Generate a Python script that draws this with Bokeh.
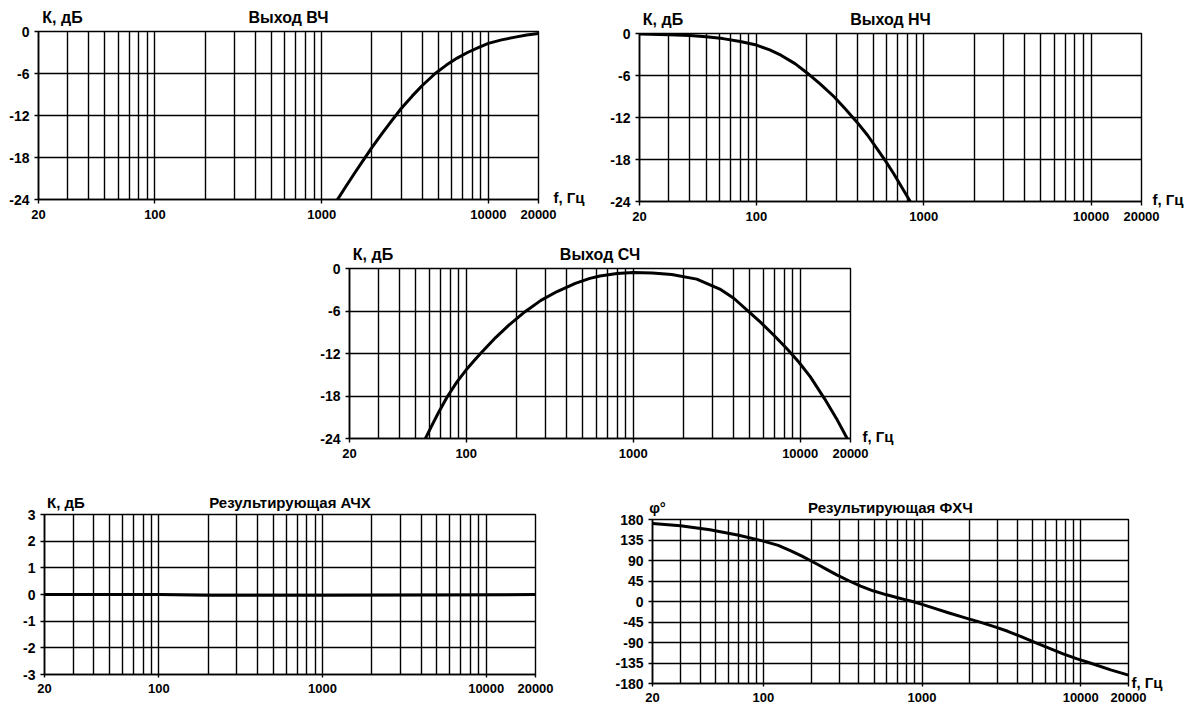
import math

from bokeh.embed import file_html
from bokeh.layouts import column, row
from bokeh.models import (CustomJSTickFormatter, FixedTicker, LinearAxis, LogAxis,
                          PrintfTickFormatter, Range1d, Spacer)
from bokeh.plotting import figure
from bokeh.resources import INLINE

FONT = "Liberation Sans"
INK = "#000000"

# ---- axes -------------------------------------------------------------------
f_min, f_max = 20, 20000
x_tick_values = [20, 100, 1000, 10000, 20000]
x_grid_values = [30, 40, 50, 60, 70, 80, 90,
                 100, 200, 300, 400, 500, 600, 700, 800, 900,
                 1000, 2000, 3000, 4000, 5000, 6000, 7000, 8000, 9000, 10000]
db_ticks = [-24, -18, -12, -6, 0]
sum_ticks = [-3, -2, -1, 0, 1, 2, 3]
phase_ticks = [-180, -135, -90, -45, 0, 45, 90, 135, 180]

# ---- high-pass output (Гц, дБ) ---------------------------------------------
hf_freq = [1245, 1400, 1600, 1800, 2000, 2300, 2600, 3000, 3500, 4000, 4800,
           5600, 6500, 7500, 8700, 10000, 12000, 14500, 17000, 20000]
hf_db = [-24.0, -22.1, -20.0, -18.2, -16.6, -14.6, -12.9, -11.0, -9.2, -7.75,
         -6.0, -4.8, -3.8, -3.0, -2.3, -1.7, -1.2, -0.8, -0.5, -0.3]

# ---- low-pass output --------------------------------------------------------
lf_freq = [20, 30, 40, 50, 63, 80, 100, 120, 140, 170, 200, 240, 290, 340, 400,
           460, 520, 590, 660, 740, 830]
lf_db = [-0.08, -0.17, -0.3, -0.47, -0.73, -1.15, -1.65, -2.35, -3.1, -4.3,
         -5.6, -7.2, -9.0, -10.8, -12.7, -14.5, -16.3, -18.2, -20.0, -22.0,
         -24.0]

# ---- mid-band output --------------------------------------------------------
mf_freq = [57, 62, 68, 77, 88, 100, 112, 123, 150, 180, 225, 280, 350, 450,
           550, 632, 800, 1000, 1300, 1700, 2400, 3300, 4000, 4820, 5800, 7000,
           8300, 9800, 11500, 14000, 16500, 19100]
mf_db = [-24.0, -22.25, -20.4, -18.1, -16.0, -14.3, -12.95, -11.9, -9.75, -8.0,
         -6.1, -4.5, -3.25, -2.1, -1.4, -1.05, -0.7, -0.57, -0.62, -0.85, -1.5,
         -2.9, -4.2, -5.9, -7.6, -9.5, -11.3, -13.2, -15.3, -18.4, -21.2, -24.0]

# ---- summed response --------------------------------------------------------
sum_freq = [20, 100, 200, 1000, 5000, 20000]
sum_db = [0.0, 0.0, -0.03, -0.03, -0.02, 0.0]

# ---- summed phase (градусы) -------------------------------------------------
ph_freq = [20, 30, 46, 70, 100, 124, 149, 175, 196, 220, 247, 290, 348, 410,
           491, 590, 693, 780, 873, 1000, 1200, 1463, 1850, 2317, 2850, 3467,
           4250, 5180, 6300, 7745, 9500, 11590, 15450, 20000]
ph_deg = [171, 166.5, 157.5, 145.5, 132.5, 123.2, 111.3, 99.5, 90.5, 81.2,
          71.5, 58.3, 45, 33.7, 23.5, 15.2, 8.8, 4.2, 0, -6.3, -15.2, -24.7,
          -35.4, -45.4, -55.3, -65.4, -77.8, -90.3, -102.4, -114.8, -125.9,
          -135.5, -150.2, -161.5]


def text_only(ax, size):
    ax.axis_line_color = None
    ax.major_tick_line_color = None
    ax.minor_tick_line_color = None
    ax.major_tick_out = 0
    ax.major_tick_in = 0
    ax.major_label_text_font = FONT
    ax.major_label_text_font_style = "bold"
    ax.major_label_text_font_size = size
    ax.major_label_text_color = INK


def panel(width, height, left, right, top, bottom, y_lo, y_hi, y_ticks,
          x_gap=6, x_tick_out=4):
    p = figure(width=width, height=height, x_axis_type="log",
               x_range=Range1d(f_min, f_max), y_range=Range1d(y_lo, y_hi),
               min_border_left=left, min_border_right=right,
               min_border_top=top, min_border_bottom=bottom,
               toolbar_location=None, output_backend="svg")
    p.background_fill_color = "white"
    p.border_fill_color = "white"
    p.outline_line_color = INK
    p.outline_line_width = 1.4

    p.xgrid.ticker = FixedTicker(ticks=x_grid_values)
    p.ygrid.ticker = FixedTicker(ticks=y_ticks)
    for g in (p.xgrid, p.ygrid):
        g.grid_line_color = INK
        g.grid_line_width = 1.4
        g.grid_line_alpha = 1.0

    xa = p.xaxis[0]
    xa.ticker = FixedTicker(ticks=x_tick_values)
    xa.formatter = PrintfTickFormatter(format="%d")
    xa.major_label_standoff = x_gap
    xa.major_label_text_font_size = "13px"
    ya = p.yaxis[0]
    ya.ticker = FixedTicker(ticks=y_ticks)
    ya.formatter = PrintfTickFormatter(format="%d")
    ya.major_label_standoff = 5
    ya.major_label_text_font_size = "14px"
    for ax in (xa, ya):
        ax.axis_line_color = INK
        ax.axis_line_width = 1.6
        ax.major_tick_line_color = INK
        ax.major_tick_line_width = 1.4
        ax.major_tick_out = 4
        ax.major_tick_in = 0
        ax.minor_tick_line_color = None
        ax.major_label_text_font = FONT
        ax.major_label_text_font_style = "bold"
        ax.major_label_text_color = INK
    xa.major_tick_out = x_tick_out
    return p


def captions(p, frame_w, frame_h, title, y_name, name_px, y_lo, y_hi,
             unit_dx, unit_dy, size="16px", standoff=6):
    """Title and quantity name above the frame, frequency unit at the right."""
    centre = math.sqrt(f_min * f_max)
    name_at = f_min * 10 ** (name_px * 3 / frame_w)
    top = LogAxis(ticker=FixedTicker(ticks=[name_at, centre]),
                  formatter=CustomJSTickFormatter(
                      args=dict(centre=centre, title=title, name=y_name),
                      code="return Math.abs(tick - centre) < 1e-3 * centre ? title : name"))
    text_only(top, size)
    top.major_label_standoff = standoff
    p.add_layout(top, "above")

    span = y_hi - y_lo
    unit_at = y_lo + unit_dy * span / frame_h
    unit = LinearAxis(ticker=FixedTicker(ticks=[unit_at]),
                      bounds=(unit_at - 0.01 * span, unit_at + 0.01 * span),
                      formatter=CustomJSTickFormatter(code="return 'f, Гц'"))
    text_only(unit, "15px")
    unit.major_label_standoff = unit_dx
    p.add_layout(unit, "right")


def curve(p, xs, ys):
    p.line(xs, ys, line_width=3, line_color=INK, line_join="round",
           line_cap="round")


# ---- top row: high / low outputs -------------------------------------------
p_hf = panel(590, 238, 38, 52, 31, 39, -24, 0, db_ticks)
curve(p_hf, hf_freq, hf_db)
captions(p_hf, 500, 168, "Выход ВЧ", "К, дБ", 24, -24, 0, 15, 2)

p_lf = panel(610, 238, 49, 59, 31, 39, -24, 0, db_ticks)
curve(p_lf, lf_freq, lf_db)
captions(p_lf, 502, 168, "Выход НЧ", "К, дБ", 23.5, -24, 0, 11, 2)

# ---- middle row: mid output --------------------------------------------------
p_mf = panel(901, 250, 50, 350, 28, 52, -24, 0, db_ticks)
curve(p_mf, mf_freq, mf_db)
captions(p_mf, 501, 170, "Выход СЧ", "К, дБ", 23.5, -24, 0, 12, 2)

# ---- bottom row: summed magnitude and phase ---------------------------------
p_sum = panel(600, 209, 44, 65, 22, 25, -3, 3, sum_ticks, x_gap=6,
              x_tick_out=3)
curve(p_sum, sum_freq, sum_db)
captions(p_sum, 491, 162, "Результирующая АЧХ", "К, дБ", 21.5, -3, 3, 11, -9,
         size="15px", standoff=4)

p_ph = panel(600, 216, 52, 72, 27, 25, -180, 180, phase_ticks, x_gap=6,
             x_tick_out=3)
curve(p_ph, ph_freq, ph_deg)
captions(p_ph, 476, 164, "Результирующая ФХЧ", "φ°", 5, -180, 180, 3, 1,
         size="15px", standoff=4)

layout = column(
    row(column(Spacer(width=590, height=0), p_hf),
        column(Spacer(width=610, height=2), p_lf)),
    row(Spacer(width=299, height=250), p_mf),
    row(column(Spacer(width=600, height=0), p_sum),
        column(Spacer(width=600, height=2), p_ph)),
)

open("out.html", "w").write(file_html(layout, INLINE))
